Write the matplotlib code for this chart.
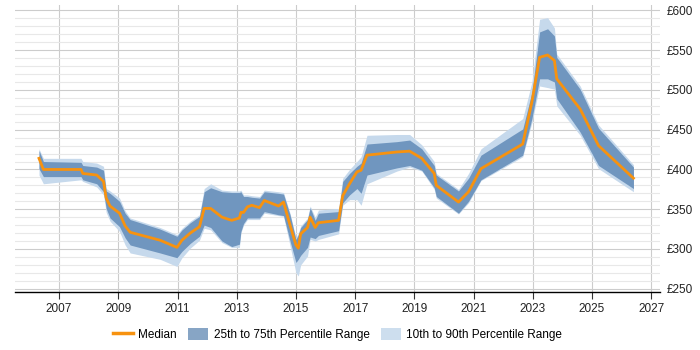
import matplotlib
matplotlib.use("Agg")
import matplotlib.pyplot as plt
from matplotlib.patches import Patch
from matplotlib.lines import Line2D
from matplotlib.ticker import MultipleLocator, FuncFormatter

plt.rcParams['font.family'] = ['Liberation Sans', 'DejaVu Sans']

# sample dates (decimal years)
years = [2006.32, 2006.47, 2007.74, 2007.8, 2008.27, 2008.5, 2008.59, 2008.72, 2009.04, 2009.23,
         2009.4, 2010.41, 2010.98, 2011.15, 2011.43, 2011.74, 2011.9, 2012.12, 2012.5, 2012.83,
         2013.09, 2013.14, 2013.23, 2013.36, 2013.51, 2013.77, 2013.93, 2014.41, 2014.58, 2014.8,
         2015.0, 2015.08, 2015.16, 2015.39, 2015.48, 2015.65, 2015.76, 2016.44, 2016.58, 2016.81,
         2017.06, 2017.2, 2017.4, 2018.41, 2018.84, 2019.25, 2019.67, 2019.74, 2020.49, 2020.83,
         2021.25, 2022.66, 2022.97, 2023.23, 2023.5, 2023.73, 2023.81, 2024.6, 2025.22, 2026.4]

median = [414, 400, 400, 395, 393, 385, 364, 354, 345, 329,
          321, 311, 302, 311, 320, 328, 351, 351, 340, 336,
          339, 346, 346, 353, 355, 352, 361, 354, 359, 330,
          305, 301, 319, 327, 340, 327, 333, 336, 367, 382,
          397, 399, 418, 422, 423, 414, 395, 380, 359, 372,
          401, 432, 485, 541, 544, 537, 514, 476, 430, 389]

p75 = [424, 410, 409, 405, 403, 399, 373, 370, 360, 345,
       337, 325, 316, 324, 333, 341, 372, 377, 372, 371,
       371, 372, 366, 366, 365, 364, 372, 370, 369, 343,
       312, 318, 327, 337, 352, 336, 345, 347, 385, 395,
       404, 408, 432, 435, 437, 426, 405, 393, 373, 389,
       418, 451, 497, 573, 577, 568, 541, 501, 452, 403]

p25 = [401, 391, 391, 387, 382, 372, 351, 339, 328, 314,
       305, 295, 289, 297, 307, 316, 330, 327, 310, 303,
       306, 322, 332, 339, 339, 339, 347, 343, 342, 310,
       283, 287, 292, 302, 315, 313, 317, 323, 358, 368,
       376, 370, 393, 402, 405, 399, 377, 366, 345, 360,
       387, 418, 464, 514, 514, 510, 489, 447, 405, 376]

p90 = [426, 414, 414, 410, 408, 404, 376, 373, 364, 348,
       339, 327, 318, 326, 335, 343, 376, 382, 374, 373,
       373, 374, 368, 368, 367, 366, 374, 372, 371, 345,
       314, 320, 329, 339, 354, 340, 349, 351, 389, 400,
       410, 416, 443, 444, 444, 431, 410, 395, 375, 395,
       426, 464, 510, 589, 591, 578, 545, 505, 456, 406]

p10 = [393, 382, 387, 385, 378, 368, 346, 335, 322, 305,
       295, 287, 278, 289, 301, 311, 326, 324, 308, 302,
       302, 320, 330, 337, 337, 337, 345, 342, 341, 304,
       270, 266, 280, 291, 312, 310, 312, 319, 355, 362,
       362, 355, 382, 398, 403, 398, 375, 364, 344, 358,
       386, 416, 459, 505, 503, 501, 480, 443, 401, 372]

year_ticks = [2007, 2009, 2011, 2013, 2015, 2017, 2019, 2021, 2023, 2025, 2027]

light = '#c6d9ec'
dark = '#7096bf'
orange = '#f7920f'

fig = plt.figure(figsize=(7, 3.5), dpi=100)
ax = fig.add_axes([0.021, 0.166, 0.922, 0.82])

ax.fill_between(years, p10, p90, color=light, lw=0)
ax.fill_between(years, p25, p75, color=dark, lw=0)
ax.plot(years, median, color=orange, lw=2)

ax.set_xlim(2005.5, 2027.3)
ax.set_ylim(246, 607)

ax.set_xticks(year_ticks)
ax.xaxis.set_major_formatter(FuncFormatter(lambda v, p: '%d' % v))
ax.yaxis.set_major_locator(MultipleLocator(50))
ax.yaxis.set_minor_locator(MultipleLocator(10))
ax.yaxis.set_major_formatter(FuncFormatter(lambda v, p: '£%d' % v))
ax.yaxis.tick_right()

ax.grid(axis='x', color='#cccccc', lw=0.8)
ax.grid(axis='y', which='major', color='#cccccc', lw=0.8)
ax.grid(axis='y', which='minor', color='#e8e8e8', lw=0.8)
ax.set_axisbelow(True)

for s in ['top', 'right', 'left']:
    ax.spines[s].set_visible(False)
ax.spines['bottom'].set_color('black')
ax.spines['bottom'].set_linewidth(1)

ax.tick_params(axis='x', length=5, width=0.8, colors='#333333', labelsize=8.5, labelcolor='#222222', pad=3)
ax.tick_params(axis='y', which='both', length=0, labelsize=8.5, labelcolor='#222222', pad=5)

handles = [Line2D([0], [0], color=orange, lw=2.5),
           Patch(facecolor='#87a5c5', edgecolor='none'),
           Patch(facecolor='#cddeee', edgecolor='none')]
labels = ['Median', '25th to 75th Percentile Range', '10th to 90th Percentile Range']
fig.legend(handles, labels, loc='center', bbox_to_anchor=(0.482, 0.045), ncol=3, frameon=False,
           fontsize=8.5, handlelength=1.7, handleheight=1.2, columnspacing=0.95, handletextpad=0.45)

fig.savefig('out.png', dpi=100)
